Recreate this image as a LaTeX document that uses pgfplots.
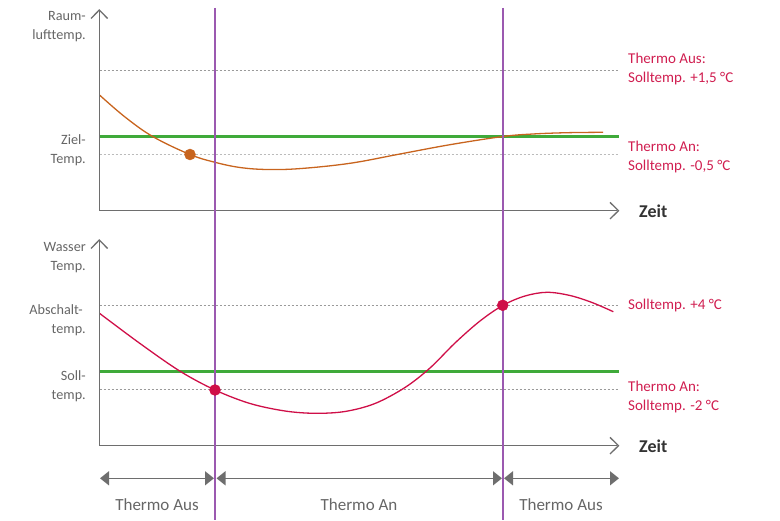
\documentclass[border=0pt]{standalone}
\usepackage{fontspec}
\setmainfont{Carlito}
\usepackage{pgfplots}
\pgfplotsset{compat=1.18}
\usetikzlibrary{arrows.meta}
\definecolor{axgray}{HTML}{6E6E6E}
\definecolor{dotgray}{HTML}{9A9A9A}
\definecolor{lightdot}{HTML}{BBBBBB}
\definecolor{lgreen}{HTML}{3FAA3A}
\definecolor{lpurple}{HTML}{9B59B0}
\definecolor{lorange}{HTML}{C8641E}
\definecolor{lred}{HTML}{CF0F48}
\definecolor{ltext}{HTML}{666666}
\definecolor{rtext}{HTML}{D01E50}
\definecolor{ztext}{HTML}{333333}
\tikzset{
  lt/.style={font=\fontsize{14.2}{19}\selectfont, text=ltext, inner sep=0pt, anchor=base east},
  rt/.style={font=\fontsize{15}{19}\selectfont, text=rtext, inner sep=0pt, anchor=base west},
  zt/.style={font=\fontsize{18}{19}\selectfont\bfseries, text=ztext, inner sep=0pt, anchor=base west},
  bt/.style={font=\fontsize{17}{19}\selectfont, text=ltext, inner sep=0pt, anchor=base},
}
\begin{document}
\begin{tikzpicture}
\begin{axis}[
  width=780pt, height=520pt, scale only axis,
  xmin=0, xmax=780, ymin=0, ymax=520, y dir=reverse,
  axis lines=none, xtick=\empty, ytick=\empty, clip=false,
]
\path (axis cs:0,0) rectangle (axis cs:780,520);
% ---------- top panel ----------
\addplot[dotgray, line width=1pt, dash pattern=on 2pt off 2pt] coordinates {(99.5,71) (618,71)};
\addplot[lightdot, line width=1.5pt, dash pattern=on 2pt off 2pt] coordinates {(99.5,154.7) (618,154.7)};
\addplot[lgreen, line width=2.6pt] coordinates {(99.5,136.7) (619,136.7)};
\addplot[lorange, line width=1.3pt, smooth, tension=0.6] coordinates {
 (99.5,95) (125,117) (153,136.7) (190,154.5) (215,162.3) (240,167.5) (267,169.5)
 (300,168.6) (350,163.3) (400,154) (450,144.7) (503,136.5) (533,134) (567,132.7) (603,132.3)};
\addplot[only marks, mark=*, mark size=5.5pt, lorange] coordinates {(190,154.5)};
\addplot[axgray, line width=1.5pt] coordinates {(99.3,11) (99.3,210.7) (617,210.7)};
\addplot[axgray, line width=1.3pt] coordinates {(91,18.5) (99.3,10) (107.6,18.5)};
\addplot[axgray, line width=1.3pt] coordinates {(610,202.4) (618.5,210.7) (610,219)};
% ---------- bottom panel ----------
\addplot[dotgray, line width=1pt, dash pattern=on 2pt off 2pt] coordinates {(99.5,306) (619,306)};
\addplot[dotgray, line width=1pt, dash pattern=on 2pt off 2pt] coordinates {(99.5,389.3) (619,389.3)};
\addplot[lgreen, line width=2.6pt] coordinates {(99.5,371.7) (619,371.7)};
\addplot[lred, line width=1.3pt, smooth, tension=0.55] coordinates {
 (99.5,313.3) (140,343.5) (180,371.2) (215,390) (250,403.5) (285,411) (315,413.3)
 (345,411.5) (375,403.5) (405,387.5) (430,368) (455,343) (480,321) (503,305.3)
 (525,296) (547,292.3) (570,295.5) (592,302.5) (613.3,311.7)};
\addplot[only marks, mark=*, mark size=5.5pt, lred] coordinates {(215,390) (502.7,305.3)};
\addplot[axgray, line width=1.5pt] coordinates {(99.3,241) (99.3,445.7) (617,445.7)};
\addplot[axgray, line width=1.3pt] coordinates {(91,248.5) (99.3,240) (107.6,248.5)};
\addplot[axgray, line width=1.3pt] coordinates {(610,437.4) (618.5,445.7) (610,454)};
% ---------- phase arrows ----------
\addplot[axgray, line width=1.5pt, {Triangle[length=9pt,width=14pt]}-{Triangle[length=9pt,width=14pt]}] coordinates {(100,478.3) (214,478.3)};
\addplot[axgray, line width=1.5pt, {Triangle[length=9pt,width=14pt]}-{Triangle[length=9pt,width=14pt]}] coordinates {(216.5,478.3) (502,478.3)};
\addplot[axgray, line width=1.5pt, {Triangle[length=9pt,width=14pt]}-{Triangle[length=9pt,width=14pt]}] coordinates {(504,478.3) (619,478.3)};
% ---------- switching lines ----------
\addplot[lpurple, line width=2pt] coordinates {(215,8) (215,520)};
\addplot[lpurple, line width=2pt] coordinates {(502.7,8) (502.7,520)};
% ---------- texts ----------
\node[lt] at (axis cs:86,20.7) {Raum-};
\node[lt] at (axis cs:86,39.5) {lufttemp.};
\node[lt] at (axis cs:86,145) {Ziel-};
\node[lt] at (axis cs:86,164) {Temp.};
\node[lt] at (axis cs:86,251.7) {Wasser};
\node[lt] at (axis cs:86,270.7) {Temp.};
\node[lt] at (axis cs:83,315) {Abschalt-};
\node[lt] at (axis cs:86,334) {temp.};
\node[lt] at (axis cs:86,380.7) {Soll-};
\node[lt] at (axis cs:86,399.3) {temp.};
\node[rt] at (axis cs:628,64) {Thermo Aus:};
\node[rt] at (axis cs:628,83) {Solltemp. +1,5 °C};
\node[rt] at (axis cs:628,152) {Thermo An:};
\node[rt] at (axis cs:628,171) {Solltemp. -0,5 °C};
\node[rt] at (axis cs:628,310) {Solltemp. +4 °C};
\node[rt] at (axis cs:628,391.7) {Thermo An:};
\node[rt] at (axis cs:628,411) {Solltemp. -2 °C};
\node[zt] at (axis cs:639,218) {Zeit};
\node[zt] at (axis cs:639,452.7) {Zeit};
\node[bt] at (axis cs:157,511) {Thermo Aus};
\node[bt] at (axis cs:359,511) {Thermo An};
\node[bt] at (axis cs:561,511) {Thermo Aus};
\end{axis}
\end{tikzpicture}
\end{document}
